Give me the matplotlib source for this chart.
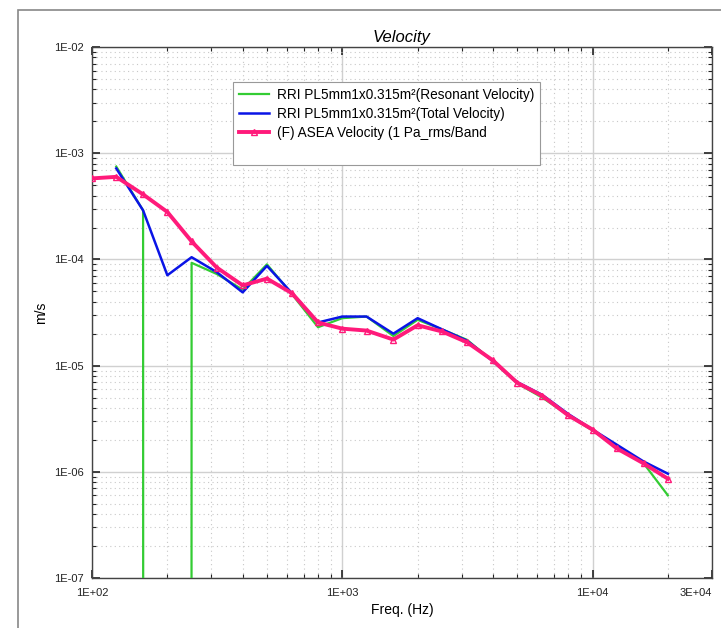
import numpy as np
import matplotlib
matplotlib.use("Agg")
import matplotlib.pyplot as plt
from matplotlib.patches import Rectangle
from matplotlib.lines import Line2D
from matplotlib.ticker import FixedLocator, LogLocator, NullFormatter

plt.rcParams['font.family'] = ['Liberation Sans', 'DejaVu Sans']

# -------- DATA (third-octave bands) --------
freq = [100, 125, 160, 200, 250, 315, 400, 500, 630, 800, 1000, 1250, 1600,
        2000, 2500, 3150, 4000, 5000, 6300, 8000, 10000, 12500, 16000, 20000]

# RRI resonant velocity (starts at 125 Hz, zero at 200 Hz)
resonant = [np.nan, 7.5e-4, 2.9e-4, 0.0, 9.3e-5, 7.3e-5, 5.2e-5, 9.0e-5, 4.7e-5,
            2.3e-5, 2.8e-5, 2.9e-5, 1.9e-5, 2.7e-5, 2.2e-5, 1.75e-5, 1.1e-5,
            6.8e-6, 5.0e-6, 3.4e-6, 2.45e-6, 1.7e-6, 1.2e-6, 6.0e-7]

# RRI total velocity
total = [np.nan, 7.2e-4, 2.9e-4, 7.1e-5, 1.05e-4, 7.6e-5, 4.9e-5, 8.7e-5, 4.8e-5,
         2.55e-5, 2.9e-5, 2.9e-5, 2.0e-5, 2.8e-5, 2.2e-5, 1.72e-5, 1.1e-5,
         7.0e-6, 5.3e-6, 3.5e-6, 2.5e-6, 1.8e-6, 1.25e-6, 9.6e-7]

# ASEA velocity
asea = [5.8e-4, 6.0e-4, 4.1e-4, 2.8e-4, 1.48e-4, 8.4e-5, 5.7e-5, 6.6e-5, 4.8e-5,
        2.55e-5, 2.23e-5, 2.14e-5, 1.76e-5, 2.4e-5, 2.1e-5, 1.66e-5, 1.12e-5,
        6.9e-6, 5.2e-6, 3.4e-6, 2.5e-6, 1.66e-6, 1.2e-6, 8.6e-7]

labels = ["RRI PL5mm1x0.315m²(Resonant Velocity)",
          "RRI PL5mm1x0.315m²(Total Velocity)",
          "(F) ASEA Velocity (1 Pa_rms/Band"]

xticks = [100, 1000, 10000, 30000]
xticklabels = ["1E+02", "1E+03", "1E+04", "3E+04"]
yticks = [1e-7, 1e-6, 1e-5, 1e-4, 1e-3, 1e-2]
yticklabels = ["1E-07", "1E-06", "1E-05", "1E-04", "1E-03", "1E-02"]

# -------- PLOT --------
fig = plt.figure(figsize=(7.21, 6.28), dpi=100)
ax = fig.add_axes([0.1276, 0.0796, 0.8599, 0.8454])

ax.set_xscale("log")
ax.set_yscale("log", nonpositive="clip")

ax.plot(freq, resonant, color="#33cc33", lw=1.6, label=labels[0], zorder=3)
ax.plot(freq, total, color="#0a14e6", lw=1.8, label=labels[1], zorder=4)
ax.plot(freq, asea, color="#ff1a7a", lw=2.8, marker="^", markersize=5,
        markerfacecolor="none", markeredgecolor="#ff1a7a", markeredgewidth=1.0,
        label=labels[2], zorder=5)

ax.set_xlim(100, 30000)
ax.set_ylim(1e-7, 1e-2)

ax.xaxis.set_major_locator(FixedLocator(xticks))
ax.set_xticklabels(xticklabels)
ax.xaxis.set_minor_locator(LogLocator(base=10, subs=np.arange(2, 10)))
ax.xaxis.set_minor_formatter(NullFormatter())
ax.yaxis.set_major_locator(FixedLocator(yticks))
ax.set_yticklabels(yticklabels)
ax.yaxis.set_minor_locator(LogLocator(base=10, subs=np.arange(2, 10)))
ax.yaxis.set_minor_formatter(NullFormatter())

ax.tick_params(which="both", direction="in", top=True, right=True,
               labelsize=8, colors="#222222")
ax.tick_params(which="major", length=6, width=1.2)
ax.tick_params(which="minor", length=3, width=0.8)
ax.tick_params(axis="x", which="major", pad=7)
ax.tick_params(axis="y", which="major", pad=6)
ax.get_xticklabels()[-1].set_horizontalalignment("right")

ax.grid(which="major", color="#d0d0d0", lw=1.0, ls="-")
ax.grid(which="minor", color="#c8c8c8", lw=0.8, ls=(0, (1, 3)))
ax.set_axisbelow(True)

for s in ax.spines.values():
    s.set_color("#444444")
    s.set_linewidth(1.0)

ax.set_title("Velocity", fontsize=12, style="italic", pad=4)
ax.set_xlabel("Freq. (Hz)", fontsize=10, labelpad=4)
ax.set_ylabel("m/s", fontsize=10, labelpad=4)

# legend with an empty last row, as in the original box
handles, labs = ax.get_legend_handles_labels()
handles.append(Line2D([], [], color="none"))
labs.append(" ")
leg = ax.legend(handles, labs, loc="upper left", bbox_to_anchor=(0.227, 0.935),
                fontsize=9.8, frameon=True, fancybox=False, edgecolor="#999999",
                borderpad=0.45, handlelength=2.2, handletextpad=0.6,
                labelspacing=0.38, borderaxespad=0, framealpha=1.0)
leg.get_frame().set_linewidth(0.8)

# outer panel frame
fig.add_artist(Rectangle((0.025, -0.2), 1.2, 1.184, transform=fig.transFigure,
                         fill=False, edgecolor="#888888", lw=1.2))

fig.savefig("out.png", dpi=100)
